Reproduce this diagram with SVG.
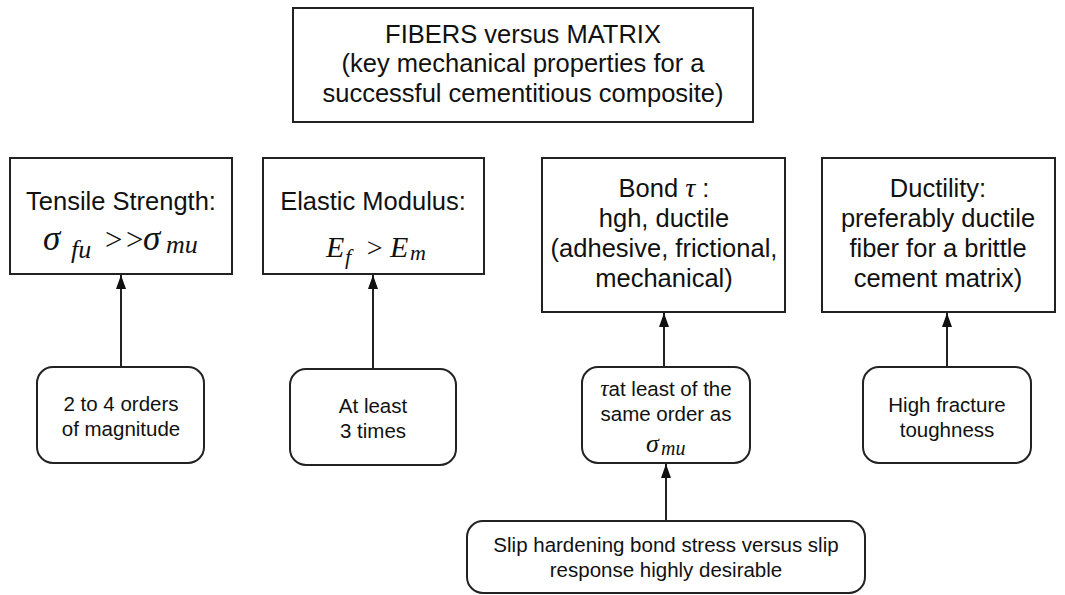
<svg xmlns="http://www.w3.org/2000/svg" width="1065" height="595" viewBox="0 0 1065 595">
<defs>
<style>
.box{fill:#fff;stroke:#222;stroke-width:2}
.t{font-family:"Liberation Sans",Arial,sans-serif;font-size:25.5px;fill:#111;text-anchor:middle}
.s{font-family:"Liberation Sans",Arial,sans-serif;font-size:20.5px;fill:#111;text-anchor:middle}
.m{font-family:"Liberation Serif","Times New Roman",serif;font-style:italic;fill:#111}
.c{stroke:#222;stroke-width:2;fill:none}
</style>
<marker id="arr" viewBox="0 0 14 10" refX="14" refY="5" markerWidth="14" markerHeight="10" markerUnits="userSpaceOnUse" orient="auto">
<path d="M0,0 L14,5 L0,10 Z" fill="#111"/>
</marker>
</defs>
<rect width="1065" height="595" fill="#fff"/>

<g id="title">
<rect class="box" x="293" y="8" width="460" height="114"/>
<text class="t" x="523" y="43">FIBERS versus MATRIX</text>
<text class="t" x="523" y="72">(key mechanical properties for a</text>
<text class="t" x="523" y="102">successful cementitious composite)</text>
</g>

<g id="tensile">
<rect class="box" x="10" y="158" width="222" height="116"/>
<text class="t" x="121" y="210">Tensile Strength:</text>
<text class="m" x="43" y="250" font-size="35">σ</text>
<text class="m" x="71" y="258" font-size="26">fu</text>
<text class="m" x="103" y="250" font-size="31" font-style="normal">&gt;&gt;</text>
<text class="m" x="143" y="250" font-size="35">σ</text>
<text class="m" x="166" y="253" font-size="26">mu</text>
</g>

<g id="elastic">
<rect class="box" x="263" y="158" width="221" height="116"/>
<text class="t" x="373" y="210">Elastic Modulus:</text>
<text class="m" x="326" y="257" font-size="30">E</text>
<text class="m" x="345" y="264" font-size="22">f</text>
<text class="m" x="365" y="257" font-size="28" font-style="normal">&gt;</text>
<text class="m" x="390" y="257" font-size="30">E</text>
<text class="m" x="410" y="260" font-size="22">m</text>
</g>

<g id="bond">
<rect class="box" x="542" y="158" width="243" height="154"/>
<text class="t" x="664" y="197">Bond <tspan class="m" font-size="28">τ</tspan> :</text>
<text class="t" x="664" y="227">hgh, ductile</text>
<text class="t" x="664" y="257">(adhesive, frictional,</text>
<text class="t" x="664" y="287">mechanical)</text>
</g>

<g id="ductility">
<rect class="box" x="822" y="158" width="233" height="154"/>
<text class="t" x="938" y="197">Ductility:</text>
<text class="t" x="938" y="227">preferably ductile</text>
<text class="t" x="938" y="257">fiber for a brittle</text>
<text class="t" x="938" y="287">cement matrix)</text>
</g>

<g id="orders">
<rect class="box" x="37" y="367" width="167" height="96" rx="16"/>
<text class="s" x="121" y="411">2 to 4 orders</text>
<text class="s" x="121" y="436">of magnitude</text>
</g>

<g id="times">
<rect class="box" x="290" y="369" width="166" height="96" rx="16"/>
<text class="s" x="373" y="413">At least</text>
<text class="s" x="373" y="438">3 times</text>
</g>

<g id="tau">
<rect class="box" x="582" y="367" width="168" height="96" rx="16"/>
<text class="s" x="666" y="396"><tspan class="m" font-size="23">τ</tspan>at least of the</text>
<text class="s" x="666" y="421">same order as</text>
<text class="m" x="646" y="452" font-size="26">σ</text>
<text class="m" x="661" y="455" font-size="20">mu</text>
</g>

<g id="fracture">
<rect class="box" x="863" y="367" width="168" height="96" rx="16"/>
<text class="s" x="947" y="412">High fracture</text>
<text class="s" x="947" y="437">toughness</text>
</g>

<g id="slip">
<rect class="box" x="467" y="521" width="398" height="72" rx="16"/>
<text class="s" x="666" y="552">Slip hardening bond stress versus slip</text>
<text class="s" x="666" y="577">response highly desirable</text>
</g>

<g id="connectors">
<line class="c" x1="121" y1="367" x2="121" y2="275" marker-end="url(#arr)"/>
<line class="c" x1="373" y1="369" x2="373" y2="275" marker-end="url(#arr)"/>
<line class="c" x1="664" y1="367" x2="664" y2="313" marker-end="url(#arr)"/>
<line class="c" x1="947" y1="367" x2="947" y2="313" marker-end="url(#arr)"/>
<line class="c" x1="666" y1="521" x2="666" y2="464" marker-end="url(#arr)"/>
</g>
</svg>
